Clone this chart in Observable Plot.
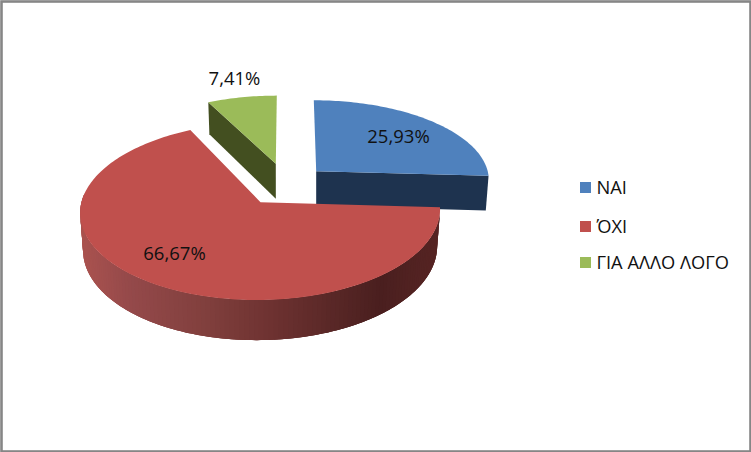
<!DOCTYPE html>
<html><head><meta charset="utf-8">
<style>html,body{margin:0;padding:0;background:#fff}svg{display:block}</style>
<script src="https://cdn.jsdelivr.net/npm/d3@7"></script>
<script src="https://cdn.jsdelivr.net/npm/@observablehq/plot@0.6"></script>
</head><body><div id="chart"></div>
<script>
const categories = ["ΝΑΙ", "ΌΧΙ", "ΓΙΑ ΑΛΛΟ ΛΟΓΟ"];
const values = [25.93, 66.67, 7.41];
const topColors = ["#4F81BD", "#C0504D", "#9BBB59"];
const sideColors = ["#1E334F", "#5a2624", "#434F20"];
const legendY = [187.5, 226.5, 262.5];
const labelPos = [[398, 137], [174, 254], [234, 79]];
// Exploded 3-D projection of every slice: apex, radii, lean and wall depth
const sliceView = [
  {ax: 315.7, ay: 170.7, rx: 171.5, ry: 78, lean: -2.4, depth: 34.5},
  {ax: 260, ay: 201.7, rx: 179, ry: 88, lean: 4, depth: 36.5},
  {ax: 275.3, ay: 163.3, rx: 166, ry: 75, lean: 1, depth: 35}
];
const persp = 0.1;
const wallRamp = d3.scaleLinear()
  .domain([83, 130, 200, 270, 330, 380, 438])
  .range(["#a9524f", "#94494a", "#82403e", "#6e3231", "#5a2827", "#4a1f1f", "#562423"]);

const arcs = d3.pie().sort(null).startAngle(0).endAngle(2 * Math.PI)(values);
function proj(v, a, low) {
  const w = 1 + persp * Math.cos(a);
  const shrink = low ? 0.984 : 1;
  const dx = v.rx * shrink * Math.sin(a) / w + v.lean * Math.cos(a);
  const dy = -v.ry * Math.cos(a) / w;
  return {x: v.ax + dx, y: v.ay + dy + (low ? v.depth * (1 - persp * Math.cos(a)) : 0)};
}
function arcPts(v, a0, a1, low) {
  const n = Math.max(2, Math.ceil((a1 - a0) / 0.02));
  return d3.range(n + 1).map(i => proj(v, a0 + (a1 - a0) * i / n, low));
}
const rows = [];
function poly(id, color, pts) { pts.forEach(p => rows.push({x: p.x, y: p.y, id, color})); }
function apexOf(v, low) { return {x: v.ax, y: v.ay + (low ? v.depth : 0)}; }
function topFace(i) {
  const v = sliceView[i], s = arcs[i];
  poly("top" + i, topColors[i], [apexOf(v), ...arcPts(v, s.startAngle, s.endAngle)]);
}
// green: the cut face seen on its left
{
  const v = sliceView[2], a = arcs[2].startAngle;
  poly("wall2", sideColors[2], [apexOf(v), proj(v, a), proj(v, a, true), apexOf(v, true)]);
  topFace(2);
}
// blue: the cut face seen in front
{
  const v = sliceView[0], a = arcs[0].endAngle;
  poly("wall0", sideColors[0], [apexOf(v), proj(v, a), proj(v, a, true), apexOf(v, true)]);
  topFace(0);
}
// red: shaded rim; each strip runs under the next so no seams show
{
  const v = sliceView[1], s = arcs[1];
  const a0 = s.startAngle, a1 = 1.5 * Math.PI + 0.1, step = 0.025;
  d3.range(a0, a1, step).forEach((a, i) => {
    const end = Math.min(a + step * 3, a1);
    const pts = [...arcPts(v, a, end), ...arcPts(v, a, end, true).reverse()];
    const mid = proj(v, a + step / 2);
    poly("rim" + i, wallRamp(mid.x), pts);
  });
  topFace(1);
}
const faces = rows;
const legendRows = categories.map((name, i) => ({name, y: legendY[i], color: topColors[i]}));
const labelRows = values.map((val, i) => ({
  text: val.toFixed(2).replace(".", ",") + "%", x: labelPos[i][0], y: labelPos[i][1]
}));
const fontStack = "'Open Sans', sans-serif";
const plotNode = Plot.plot({
  width: 751, height: 452, margin: 0,
  style: {background: "#fff", fontFamily: fontStack},
  x: {domain: [0, 751], range: [0, 751], axis: null},
  y: {domain: [0, 452], range: [0, 452], axis: null},
  color: {type: "identity"},
  marks: [
    Plot.line(faces, {x: "x", y: "y", z: "id", fill: "color", stroke: "none", curve: "linear"}),
    Plot.text(labelRows, {x: "x", y: "y", text: "text", fontSize: 18.5, fill: "#111", textAnchor: "middle", lineAnchor: "middle"}),
    Plot.rect(legendRows, {x1: () => 580, x2: () => 591, y1: d => d.y - 5.5, y2: d => d.y + 5.5, fill: "color"}),
    Plot.text(legendRows, {x: () => 596, y: "y", text: "name", fontSize: 18.3, fill: "#111", textAnchor: "start", lineAnchor: "middle"}),
    Plot.frame({stroke: "#868686", strokeWidth: 2.6, inset: 1})
  ]
});
document.getElementById("chart").append(plotNode);
</script></body></html>
